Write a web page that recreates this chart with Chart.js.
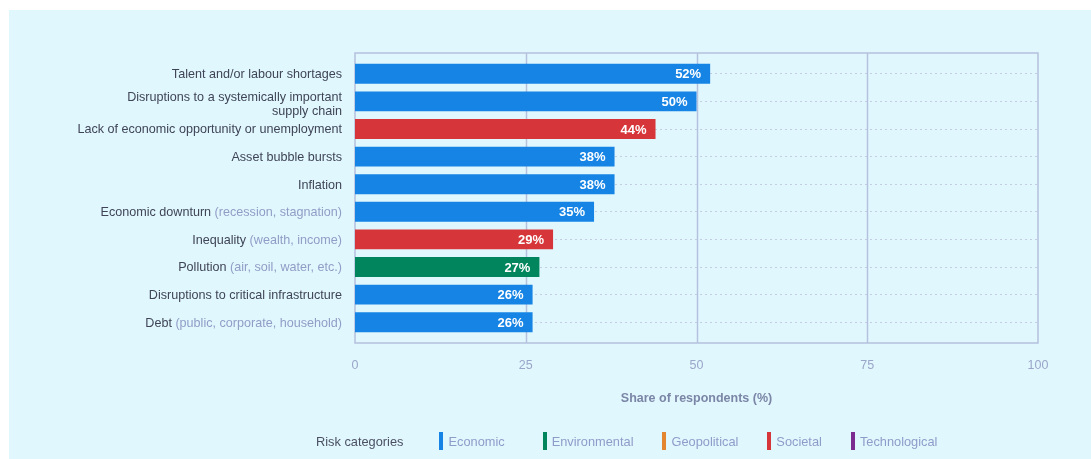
<!DOCTYPE html>
<html>
<head>
<meta charset="utf-8">
<script src="https://cdn.jsdelivr.net/npm/chart.js@4"></script>
<style>
  html, body { margin: 0; padding: 0; background: #ffffff; }
  #wrap { position: relative; width: 1091px; height: 459px; overflow: hidden; }
  #panel { position: absolute; left: 9px; top: 10px; width: 1082px; height: 449px; background: #e1f7fe; }
  #chart { position: absolute; left: 0; top: 0; }
  #legend { position: absolute; left: 316px; top: 432px; height: 18px; display: flex; align-items: center;
            font: 12.8px "Liberation Sans", Arial, Helvetica, sans-serif; white-space: nowrap; }
  #legend .title { color: #4b5163; margin-right: 36px; }
  #legend .item { display: flex; align-items: center; color: #8e9cc9; margin-right: 29px; }
  #legend .item.first { margin-right: 38px; }
  #legend .swatch { width: 4px; height: 18px; margin-right: 5px; }
</style>
</head>
<body>
<div id="wrap">
  <div id="panel"></div>
  <canvas id="chart" width="1091" height="459"></canvas>
  <div id="legend"></div>
</div>
<script>
// Risks, most-cited first
const categories = [
  "Talent and/or labour shortages",
  ["Disruptions to a systemically important", "supply chain"],
  "Lack of economic opportunity or unemployment",
  "Asset bubble bursts",
  "Inflation",
  "Economic downturn",
  "Inequality",
  "Pollution",
  "Disruptions to critical infrastructure",
  "Debt"
];
const categoryNotes = [
  "", "", "", "", "",
  "(recession, stagnation)",
  "(wealth, income)",
  "(air, soil, water, etc.)",
  "",
  "(public, corporate, household)"
];
const shares = [52, 50, 44, 38, 38, 35, 29, 27, 26, 26];
const riskCategory = [
  "Economic", "Economic", "Societal", "Economic", "Economic",
  "Economic", "Societal", "Environmental", "Economic", "Economic"
];
const legendCategories = ["Economic", "Environmental", "Geopolitical", "Societal", "Technological"];
const legendColours = ["#1584e4", "#00855d", "#e3862f", "#d63539", "#7c2b8f"];
const xTicks = [0, 25, 50, 75, 100];
const axisTitle = "Share of respondents (%)";
const legendTitle = "Risk categories";

const FONT = '"Liberation Sans", Arial, Helvetica, sans-serif';
const colourOf = name => legendColours[legendCategories.indexOf(name)];

// Frame around the plot and vertical gridlines at 25 / 50 / 75
const framePlugin = {
  id: 'frame',
  beforeDatasetsDraw(chart) {
    const { ctx, chartArea: a, scales: { x } } = chart;
    const top = a.top - 7, bottom = a.bottom + 7;
    ctx.save();
    ctx.strokeStyle = '#b5c1dd';
    ctx.lineWidth = 1.5;
    xTicks.slice(1, -1).forEach(v => {
      const px = Math.round(x.getPixelForValue(v)) + 0.5;
      ctx.beginPath();
      ctx.moveTo(px, top);
      ctx.lineTo(px, bottom);
      ctx.stroke();
    });
    ctx.strokeRect(a.left, top, a.right - a.left, bottom - top);
    ctx.restore();
  }
};

// Category labels, with the explanatory part in a lighter tone
const rowLabelPlugin = {
  id: 'rowLabels',
  afterDraw(chart) {
    const { ctx, chartArea: a, scales: { y } } = chart;
    ctx.save();
    ctx.font = '12.6px ' + FONT;
    ctx.textBaseline = 'middle';
    ctx.textAlign = 'left';
    const right = a.left - 13;
    categories.forEach((cat, i) => {
      const cy = y.getPixelForValue(i) + 1;
      const lines = Array.isArray(cat) ? cat : [cat];
      const offsets = lines.length > 1 ? [-4.5, 9] : [0];
      lines.forEach((line, j) => {
        const note = (j === lines.length - 1 && categoryNotes[i]) ? ' ' + categoryNotes[i] : '';
        const wMain = ctx.measureText(line).width;
        const wNote = note ? ctx.measureText(note).width : 0;
        const start = right - wMain - wNote;
        const ly = cy + offsets[j];
        ctx.fillStyle = '#3f4557';
        ctx.fillText(line, start, ly);
        if (note) {
          ctx.fillStyle = '#909dc6';
          ctx.fillText(note, start + wMain, ly);
        }
      });
    });
    ctx.restore();
  }
};

// Value labels inside the end of each bar
const valueLabelPlugin = {
  id: 'valueLabels',
  afterDatasetsDraw(chart) {
    const { ctx } = chart;
    const meta = chart.getDatasetMeta(0);
    ctx.save();
    ctx.font = 'bold 13px ' + FONT;
    ctx.fillStyle = '#ffffff';
    ctx.textAlign = 'right';
    ctx.textBaseline = 'middle';
    meta.data.forEach((bar, i) => {
      ctx.fillText(shares[i] + '%', bar.x - 9, bar.y + 1);
    });
    ctx.restore();
  }
};

new Chart(document.getElementById('chart'), {
  type: 'bar',
  data: {
    labels: categories,
    datasets: [{
      data: shares,
      backgroundColor: riskCategory.map(colourOf),
      borderWidth: 0,
      categoryPercentage: 1,
      barPercentage: 0.72
    }]
  },
  options: {
    indexAxis: 'y',
    responsive: false,
    animation: false,
    layout: { padding: { left: 355, right: 53, top: 60, bottom: 0 } },
    plugins: { legend: { display: false }, tooltip: { enabled: false } },
    scales: {
      x: {
        type: 'linear',
        min: 0,
        max: 100,
        afterBuildTicks: s => { s.ticks = xTicks.map(v => ({ value: v })); },
        afterFit: s => { s.height = 459 - 336; },
        grid: { display: false, drawTicks: false },
        border: { display: false },
        ticks: { padding: 22, color: '#9aa6c9', font: { family: FONT, size: 12.5 } },
        title: {
          display: true,
          text: axisTitle,
          color: '#7b86a6',
          font: { family: FONT, size: 12.5, weight: 'bold' },
          padding: { top: 0, bottom: 53 }
        }
      },
      y: {
        type: 'category',
        offset: true,
        afterFit: s => { s.width = 0; },
        ticks: { display: false },
        grid: { offset: false, drawTicks: false, color: '#c4cde3', lineWidth: 1 },
        border: { display: false, dash: [2, 3] }
      }
    }
  },
  plugins: [framePlugin, rowLabelPlugin, valueLabelPlugin]
});

// Category legend
const legend = document.getElementById('legend');
const t = document.createElement('span');
t.className = 'title';
t.textContent = legendTitle;
legend.appendChild(t);
legendCategories.forEach((name, i) => {
  const item = document.createElement('span');
  item.className = i === 0 ? 'item first' : 'item';
  const sw = document.createElement('span');
  sw.className = 'swatch';
  sw.style.background = legendColours[i];
  item.appendChild(sw);
  item.appendChild(document.createTextNode(name));
  legend.appendChild(item);
});
</script>
</body>
</html>
